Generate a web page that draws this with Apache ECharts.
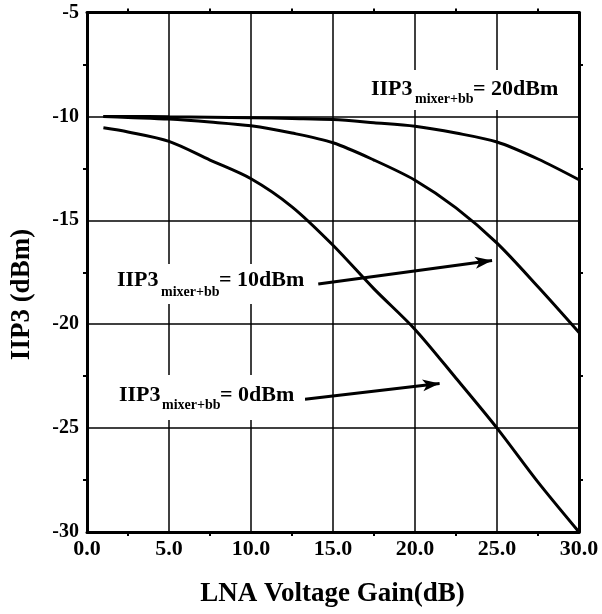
<!DOCTYPE html>
<html><head><meta charset="utf-8">
<script src="https://cdn.jsdelivr.net/npm/echarts@6/dist/echarts.min.js"></script>
<style>html,body{margin:0;padding:0;background:#fff}#c{width:602px;height:614px}</style>
</head><body><div id="c"></div>
<script>
const gain = [1, 2.5, 5, 7.5, 10, 12.5, 15, 17.5, 20, 22.5, 25, 27.5, 30];
const iip3Mixer20 = [-10.0, -10.0, -10.02, -10.04, -10.06, -10.1, -10.15, -10.3, -10.47, -10.8, -11.23, -12.05, -13.05];
const iip3Mixer10 = [-10.0, -10.05, -10.13, -10.27, -10.45, -10.8, -11.27, -12.1, -13.07, -14.4, -16.1, -18.2, -20.4];
const iip3Mixer0 = [-10.55, -10.75, -11.2, -12.1, -13.0, -14.35, -16.2, -18.3, -20.25, -22.6, -25.0, -27.6, -30.0];
const xTicks = [0, 5, 10, 15, 20, 25, 30];
const xTickLabels = ['0.0', '5.0', '10.0', '15.0', '20.0', '25.0', '30.0'];
const yTicks = [-30, -25, -20, -15, -10, -5];
const yTickLabels = ['-30', '-25', '-20', '-15', '-10', '-5'];
const xTitle = 'LNA Voltage Gain(dB)';
const yTitle = 'IIP3 (dBm)';
const annMain = 'IIP3';
const annSub = 'mixer+bb';
const annValues = ['= 20dBm', '= 10dBm', '= 0dBm'];
const arrow10 = [[14.1, -18.07], [24.7, -16.93]];
const arrow0 = [[13.29, -23.61], [21.5, -22.85]];

const FONT = '"Liberation Serif", "Times New Roman", serif';
const toPairs = ys => gain.map((g, i) => [g, ys[i]]);

function annotation(rect, xs, ys, valText) {
  return [
    { type: 'rect', z: 50, shape: rect, style: { fill: '#fff' } },
    { type: 'text', z: 51, x: xs[0], y: ys[0], style: { text: annMain, fill: '#000', font: 'bold 22px ' + FONT, align: 'left', verticalAlign: 'middle' } },
    { type: 'text', z: 51, x: xs[1], y: ys[1], style: { text: annSub, fill: '#000', font: 'bold 14px ' + FONT, align: 'left', verticalAlign: 'middle' } },
    { type: 'text', z: 51, x: xs[2], y: ys[0], style: { text: valText, fill: '#000', font: 'bold 22px ' + FONT, align: 'left', verticalAlign: 'middle' } }
  ];
}

const lineSeries = (name, ys, extra) => Object.assign({
  name, type: 'line', data: toPairs(ys), smooth: 0.3, symbol: 'none',
  lineStyle: { color: '#000', width: 3 }, z: 5
}, extra || {});

const arrowMark = {
  silent: true, symbol: ['none', 'arrow'], symbolSize: [9, 17],
  label: { show: false }, lineStyle: { color: '#000', width: 3, type: 'solid' },
  itemStyle: { color: '#000' },
  data: [
    [{ coord: arrow10[0] }, { coord: arrow10[1] }],
    [{ coord: arrow0[0] }, { coord: arrow0[1] }]
  ]
};

const axisCommon = {
  type: 'value',
  axisLine: { show: true, onZero: false, lineStyle: { color: '#000', width: 3 } },
  axisTick: { show: false },
  minorTick: { show: true, splitNumber: 2, length: 4, lineStyle: { color: '#000', width: 2 } },
  minorSplitLine: { show: false }
};

const chart = echarts.init(document.getElementById('c'), null, { renderer: 'canvas' });
chart.setOption({
  animation: false,
  backgroundColor: '#fff',
  grid: { left: 87, right: 23, top: 12.5, bottom: 82, containLabel: false },
  xAxis: [
    Object.assign({}, axisCommon, {
      min: 0, max: 30, interval: 5, position: 'bottom',
      minorTick: Object.assign({}, axisCommon.minorTick, { inside: true }),
      axisLabel: { margin: 6, color: '#000', fontFamily: FONT, fontWeight: 'bold', fontSize: 22,
        formatter: v => xTickLabels[xTicks.indexOf(v)] },
      splitLine: { show: true, lineStyle: { color: '#000', width: 1.5 } }
    }),
    Object.assign({}, axisCommon, {
      min: 0, max: 30, interval: 5, position: 'top',
      axisLabel: { show: false }, splitLine: { show: false }
    })
  ],
  yAxis: [
    Object.assign({}, axisCommon, {
      min: -30, max: -5, interval: 5, position: 'left',
      axisLabel: { margin: 8, color: '#000', fontFamily: FONT, fontWeight: 'bold', fontSize: 20,
        formatter: v => yTickLabels[yTicks.indexOf(v)] },
      splitLine: { show: true, lineStyle: { color: '#000', width: 1.5 } }
    }),
    Object.assign({}, axisCommon, {
      min: -30, max: -5, interval: 5, position: 'right',
      axisLabel: { show: false }, splitLine: { show: false }
    })
  ],
  series: [
    lineSeries('IIP3mixer+bb = 20dBm', iip3Mixer20),
    lineSeries('IIP3mixer+bb = 10dBm', iip3Mixer10, { markLine: arrowMark }),
    lineSeries('IIP3mixer+bb = 0dBm', iip3Mixer0)
  ],
  graphic: [].concat(
    annotation({ x: 362, y: 70, width: 208, height: 40 }, [371, 415, 473], [89, 99], annValues[0]),
    annotation({ x: 111, y: 264, width: 203, height: 40 }, [117, 161, 219], [280.3, 292], annValues[1]),
    annotation({ x: 113, y: 375, width: 192, height: 45 }, [119, 162, 220], [395, 405], annValues[2]),
    [
      { type: 'text', z: 51, x: 332.5, y: 594.5, style: { text: xTitle, fill: '#000', font: 'bold 27px ' + FONT, align: 'center', verticalAlign: 'middle' } },
      { type: 'text', z: 51, x: 22, y: 294.5, rotation: Math.PI / 2, style: { text: yTitle, fill: '#000', font: 'bold 27px ' + FONT, align: 'center', verticalAlign: 'middle' } }
    ]
  )
});
</script>
</body></html>
